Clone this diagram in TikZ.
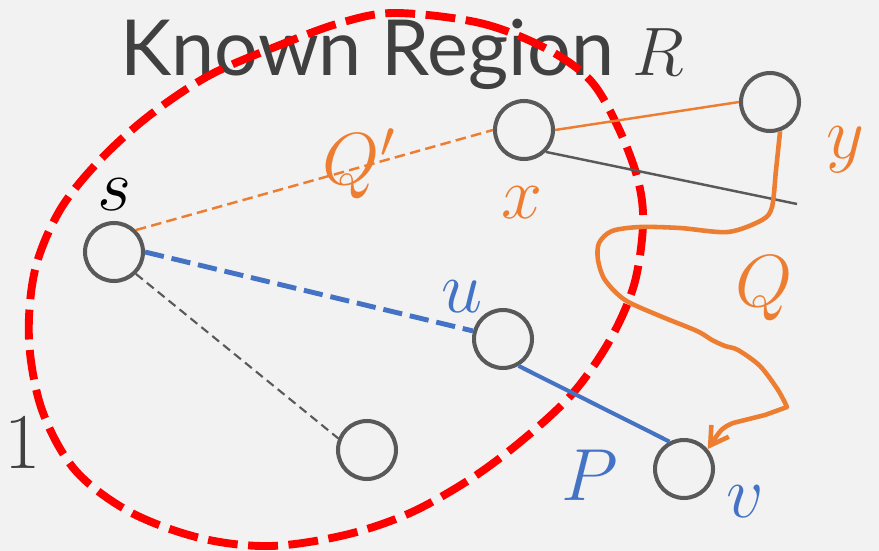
\RequirePackage{fix-cm}
\documentclass[tikz,border=0pt]{standalone}
\usepackage{fontspec}
\newfontfamily\titlefont{Lato}
\usetikzlibrary{arrows.meta}
\definecolor{qorange}{HTML}{ED7D31}
\definecolor{pblue}{HTML}{4472C4}
\definecolor{nodegray}{HTML}{595959}
\definecolor{textgray}{HTML}{404040}
\definecolor{bggray}{HTML}{F2F2F2}
\begin{document}
\begin{tikzpicture}[x=0.02cm, y=-0.02cm,
    vnode/.style={circle,draw=nodegray,line width=2.3pt,minimum size=1.16cm,inner sep=0},
    lbl/.style={inner sep=0,anchor=base,font=\fontsize{42}{48}\selectfont},
    region/.style={draw=red,line width=4.5pt,dash pattern=on 17pt off 6pt},
    qdash/.style={qorange,line width=1.4pt,dash pattern=on 6pt off 3pt},
    qline/.style={qorange,line width=1.4pt},
    pdash/.style={pblue,line width=2.8pt,dash pattern=on 11pt off 4.5pt},
    pline/.style={pblue,line width=2.3pt},
    gline/.style={nodegray,line width=1.4pt},
    gdash/.style={nodegray,line width=1.2pt,dash pattern=on 5pt off 3pt},
    qpath/.style={qorange,line width=2.6pt,line join=round,-{Straight Barb[length=10pt,width=12pt]}} ]
    \fill[bggray] (0,0) rectangle (879,551);
    \useasboundingbox (0,0) rectangle (879,551);
    \node[anchor=base west,inner sep=0,text=textgray,font=\titlefont\fontsize{44}{50}\selectfont] (title) at (120,75) {Known Region\hspace{0.24em}{\fontsize{39}{46}\selectfont$R$}};
    \node[inner sep=0,anchor=base,text=textgray,font=\fontsize{45}{50}\selectfont] (num) at (23,468) {1};
    % known region
    \draw[region] plot[smooth cycle,tension=0.55] coordinates {(395,13) (480,23) (545,48) (590,80) (618,127) (638,180) (643,225) (634,285) (610,340) (573,393) (525,438) (472,478) (410,513) (345,535) (270,546) (200,538) (130,512) (75,470) (42,410) (29,340) (35,270) (60,210) (100,160) (150,115) (210,75) (280,45) (340,23)};
    \node[vnode] (s) at (114,252) {};
    \node[vnode] (x) at (524,130) {};
    \node[vnode] (y) at (770,102) {};
    \node[vnode] (u) at (503,339) {};
    \node[vnode] (v) at (684,469) {};
    \node[vnode] (w) at (367,450) {};
    \coordinate (xend) at (797,204);
    \draw[qdash] (s.45) -- (x.west);
    \draw[qline] (x.east) -- (y.west);
    \draw[gline] (x.-45) -- (xend);
    \draw[pdash] (s.east) -- (u.165);
    \draw[pline] (u.-60) -- (v.118);
    \draw[gdash] (s.-45) -- (w.158);
    \draw[qpath] plot[smooth,tension=0.5] coordinates {(y.-71) (776,170) (772,207) (762,220) (728,232) (680,228) (640,227) (612,231) (599,243) (598,260) (605,280) (625,300) (660,316) (697,331) (712,340) (725,346) (738,350) (760,366) (778,390) (787,407)}
        -- (765,415) -- (733,423) .. controls (722,428) .. (v.40);
    \node[lbl] (ls) at (115,210) {$s$};
    \node[lbl,text=qorange] (lq2) at (359,184) {$Q'$};
    \node[lbl,text=qorange] (lx) at (522,218) {$x$};
    \node[lbl,text=qorange] (ly) at (845,158) {$y$};
    \node[lbl,text=pblue] (lu) at (462,312) {$u$};
    \node[lbl,text=qorange] (lq) at (764,306) {$Q$};
    \node[lbl,text=pblue] (lp) at (590,500) {$P$};
    \node[lbl,text=pblue] (lv) at (745,517) {$v$};
\end{tikzpicture}
\end{document}
